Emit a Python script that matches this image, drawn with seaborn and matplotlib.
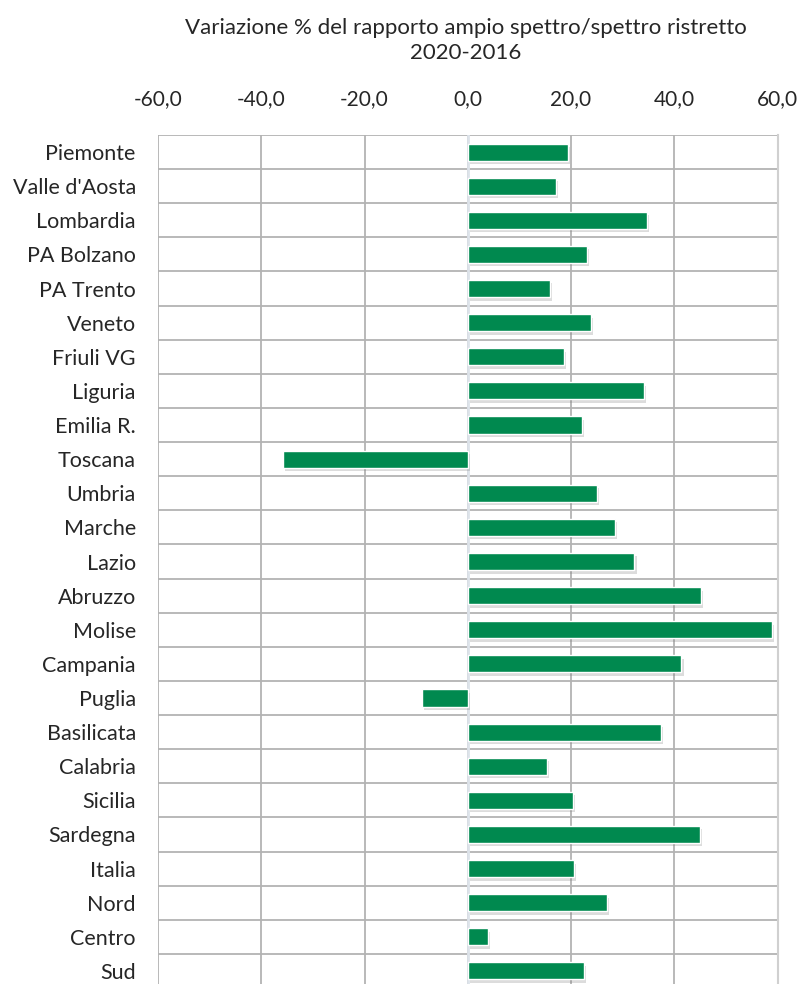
import pandas as pd
import seaborn as sns
import matplotlib.pyplot as plt
import matplotlib.patheffects as pe
from matplotlib.ticker import MultipleLocator, FuncFormatter

regions = ["Piemonte", "Valle d'Aosta", "Lombardia", "PA Bolzano", "PA Trento",
           "Veneto", "Friuli VG", "Liguria", "Emilia R.", "Toscana", "Umbria",
           "Marche", "Lazio", "Abruzzo", "Molise", "Campania", "Puglia",
           "Basilicata", "Calabria", "Sicilia", "Sardegna", "Italia", "Nord",
           "Centro", "Sud"]
variazione = [19.4, 17.0, 34.8, 23.1, 16.0, 23.9, 18.6, 34.1, 22.2, -35.8,
              25.0, 28.5, 32.3, 45.1, 58.9, 41.4, -8.9, 37.5, 15.4, 20.3,
              45.0, 20.6, 26.9, 3.9, 22.5]
title_lines = ["Variazione % del rapporto ampio spettro/spettro ristretto", "2020-2016"]


def create_plot():
    df = pd.DataFrame({"regione": regions, "valore": variazione})

    sns.set_style("white")
    plt.rcParams["font.family"] = ["Lato", "DejaVu Sans"]

    fig = plt.figure(figsize=(8.01, 9.84), dpi=100)
    ax = fig.add_axes([158 / 801, 1 - 988 / 984, 619.5 / 801, 853 / 984])

    sns.barplot(data=df, x="valore", y="regione", color="#00894f", saturation=1,
                width=0.5, ax=ax, zorder=3)
    # soft drop shadow like the original chart
    for bar in ax.patches:
        bar.set_path_effects([pe.SimplePatchShadow(offset=(1.5, -2.5), shadow_rgbFace="#777777", alpha=0.25),
                              pe.Normal()])

    ax.set_xlim(-60, 60)
    ax.set_ylim(len(regions) - 0.5, -0.5)
    ax.xaxis.set_major_locator(MultipleLocator(20))
    ax.xaxis.set_major_formatter(FuncFormatter(lambda v, p: f"{v:.1f}".replace(".", ",")))
    ax.xaxis.tick_top()
    ax.tick_params(axis="x", length=0, pad=19, labelsize=15)
    ax.tick_params(axis="y", length=0, pad=16, labelsize=15.5)
    ax.set_xlabel("")
    ax.set_ylabel("")

    # grid: verticals at major ticks, horizontals between rows
    ax.grid(axis="x", color="#b3b3b3", linewidth=1.3, zorder=0)
    ax.set_yticks([i + 0.5 for i in range(-1, len(regions))], minor=True)
    ax.grid(axis="y", which="minor", color="#b3b3b3", linewidth=1.3, zorder=0)
    ax.grid(axis="y", which="major", visible=False)
    ax.tick_params(axis="y", which="minor", length=0)
    ax.axvline(0, color="#dde3ea", linewidth=2, zorder=1)

    for s in ax.spines.values():
        s.set_visible(False)
    ax.spines["right"].set_visible(True)
    ax.spines["right"].set_color("#d0d0d0")
    ax.spines["right"].set_linewidth(1.5)

    fig.text(0.582, 1 - 28 / 984, title_lines[0], ha="center", va="center", fontsize=16)
    fig.text(0.582, 1 - 53 / 984, title_lines[1], ha="center", va="center", fontsize=16)

    fig.savefig("out.png", dpi=100)


if __name__ == "__main__":
    create_plot()
